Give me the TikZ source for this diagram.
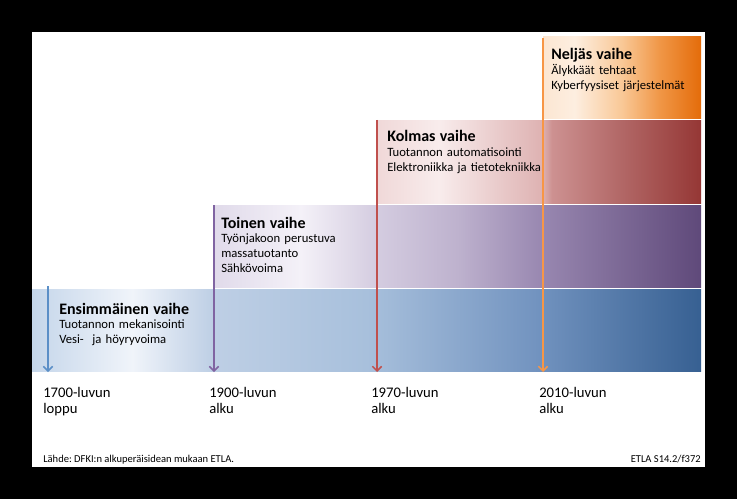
\documentclass[tikz,border=0pt]{standalone}
\usepackage{fontspec}
\setmainfont{Carlito}
\usepackage{tikz}
\usetikzlibrary{arrows.meta}
\frenchspacing
% band colours
\definecolor{BlueLt}{RGB}{197,214,234}
\definecolor{BlueWh}{RGB}{240,244,250}
\definecolor{BlueStep}{RGB}{190,207,229}
\definecolor{BlueMid}{RGB}{168,192,220}
\definecolor{BlueMid2}{RGB}{115,148,192}
\definecolor{BlueDk}{RGB}{55,96,146}
\definecolor{PurpleLt}{RGB}{224,218,234}
\definecolor{PurpleWh}{RGB}{244,241,248}
\definecolor{PurpleStep}{RGB}{212,204,224}
\definecolor{PurpleMid}{RGB}{190,178,206}
\definecolor{PurpleMid2}{RGB}{152,135,176}
\definecolor{PurpleDk}{RGB}{95,73,122}
\definecolor{RedLt}{RGB}{240,216,216}
\definecolor{RedWh}{RGB}{248,236,236}
\definecolor{RedStep}{RGB}{222,178,178}
\definecolor{RedMid}{RGB}{205,145,145}
\definecolor{RedMid2}{RGB}{178,104,103}
\definecolor{RedDk}{RGB}{149,55,53}
\definecolor{OrangeLt}{RGB}{252,230,210}
\definecolor{OrangeWh}{RGB}{253,238,224}
\definecolor{OrangeMid}{RGB}{249,200,150}
\definecolor{OrangeMid2}{RGB}{240,150,70}
\definecolor{OrangeDk}{RGB}{228,108,10}
% arrow colours
\definecolor{ArrBlue}{RGB}{91,143,199}
\definecolor{ArrPurple}{RGB}{128,100,162}
\definecolor{ArrRed}{RGB}{192,80,77}
\definecolor{ArrOrange}{RGB}{247,150,70}
\pgfdeclarehorizontalshading{BlueBand}{100bp}{color(0bp)=(BlueLt); color(25bp)=(BlueLt);
  color(32.5bp)=(BlueWh); color(38.5bp)=(BlueStep); color(50bp)=(BlueMid);
  color(62.5bp)=(BlueMid2); color(75bp)=(BlueDk); color(100bp)=(BlueDk)}
\pgfdeclarehorizontalshading{PurpleBand}{100bp}{color(0bp)=(PurpleLt); color(25bp)=(PurpleLt);
  color(34bp)=(PurpleWh); color(41.8bp)=(PurpleStep); color(50bp)=(PurpleMid);
  color(58.8bp)=(PurpleMid2); color(75bp)=(PurpleDk); color(100bp)=(PurpleDk)}
\pgfdeclarehorizontalshading{RedBand}{100bp}{color(0bp)=(RedLt); color(25bp)=(RedLt);
  color(34.5bp)=(RedWh); color(50.5bp)=(RedStep); color(52bp)=(RedMid);
  color(62.5bp)=(RedMid2); color(75bp)=(RedDk); color(100bp)=(RedDk)}
\pgfdeclarehorizontalshading{OrangeBand}{100bp}{color(0bp)=(OrangeLt); color(25bp)=(OrangeLt);
  color(35bp)=(OrangeWh); color(50bp)=(OrangeMid); color(62bp)=(OrangeMid2);
  color(75bp)=(OrangeDk); color(100bp)=(OrangeDk)}
\newcommand\phasehead[1]{{\bfseries\fontsize{12}{11}\selectfont #1}}

\begin{document}
\begin{tikzpicture}[
  x=0.75pt, y=-0.75pt,
  phase/.style={anchor=base west, inner sep=0pt, text width=4.5cm, align=left,
    font=\fontsize{9.5}{11}\selectfont},
  era/.style={anchor=base west, inner sep=0pt, text width=2.5cm, align=left,
    font=\fontsize{11}{12}\selectfont},
  note/.style={inner sep=0pt, font=\fontsize{7.9}{9}\selectfont},
  drop/.style={-{Straight Barb[length=3.5pt,width=7pt]}, line width=1.1pt}
]
% frame
\fill[black] (0,0) rectangle (737,499);
\fill[white] (32,32) rectangle (705,467);

% bands
\shade[shading=BlueBand] (32,289) rectangle (701,371);
\shade[shading=PurpleBand] (213,205) rectangle (701,287);
\shade[shading=RedBand] (377,121) rectangle (701,203);
\shade[shading=OrangeBand] (543,37) rectangle (701,119);

% arrows
\coordinate (s1) at (48,286);
\coordinate (e1) at (48,372);
\coordinate (s2) at (214,205);
\coordinate (e2) at (214,372);
\coordinate (s3) at (377,120);
\coordinate (e3) at (377,372);
\coordinate (s4) at (543,38);
\coordinate (e4) at (543,372);
\draw[drop, ArrBlue] (s1) -- (e1);
\draw[drop, ArrPurple] (s2) -- (e2);
\draw[drop, ArrRed] (s3) -- (e3);
\draw[drop, ArrOrange] (s4) -- (e4);

% phases
\node[phase] (p1) at (59,314) {\phasehead{Ensimmäinen vaihe}\\Tuotannon mekanisointi\\Vesi-~ ja höyryvoima};
\node[phase] (p2) at (221,228) {\phasehead{Toinen vaihe}\\Työnjakoon perustuva\\massatuotanto\\Sähkövoima};
\node[phase] (p3) at (387,142) {\phasehead{Kolmas vaihe}\\Tuotannon automatisointi\\Elektroniikka ja tietotekniikka};
\node[phase] (p4) at (551,60) {\phasehead{Neljäs vaihe}\\Älykkäät tehtaat\\Kyberfyysiset järjestelmät};

% eras
\node[era] (y1) at (43,397) {1700-luvun\\loppu};
\node[era] (y2) at (209,397) {1900-luvun\\alku};
\node[era] (y3) at (371,397) {1970-luvun\\alku};
\node[era] (y4) at (539,397) {2010-luvun\\alku};

% source
\node[note, anchor=base west] (src) at (43,462) {Lähde: DFKI:n alkuperäisidean mukaan ETLA.};
\node[note, anchor=base east] (ref) at (701,462) {ETLA S14.2/f372};
\end{tikzpicture}
\end{document}
